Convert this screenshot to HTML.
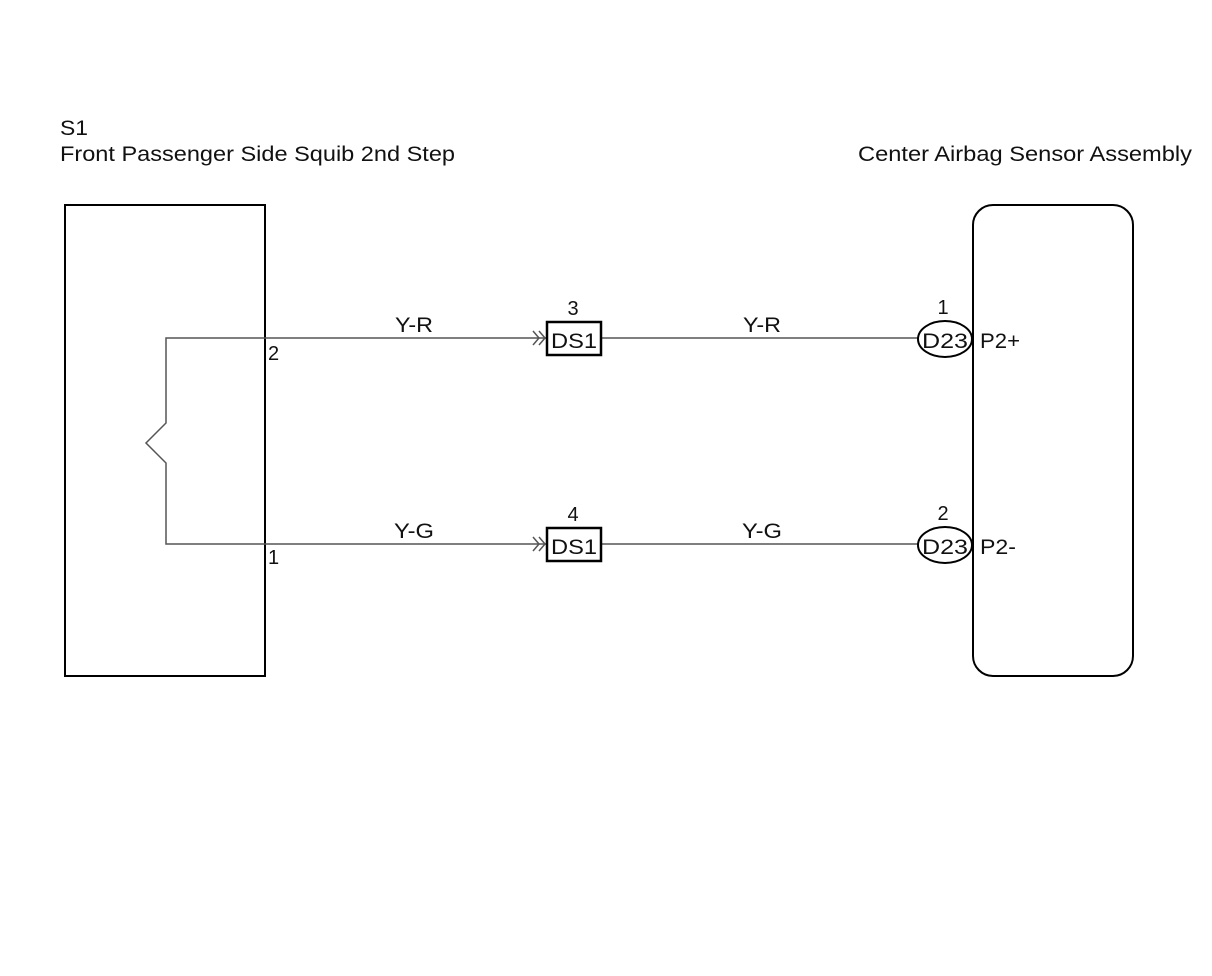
<!DOCTYPE html>
<html><head><meta charset="utf-8"><style>
html,body{margin:0;padding:0;background:#fff;}
svg{display:block;}
text{font-family:"Liberation Sans",Arial,sans-serif;fill:#111;}
</style></head><body>
<svg width="1212" height="976" viewBox="0 0 1212 976" xmlns="http://www.w3.org/2000/svg">
<rect width="1212" height="976" fill="#fff"/>
<text x="60" y="135" font-size="21" textLength="28" lengthAdjust="spacingAndGlyphs">S1</text>
<text x="60" y="161" font-size="21" textLength="395" lengthAdjust="spacingAndGlyphs">Front Passenger Side Squib 2nd Step</text>
<text x="858" y="161" font-size="21" textLength="334" lengthAdjust="spacingAndGlyphs">Center Airbag Sensor Assembly</text>
<rect x="65" y="205" width="200" height="471" fill="none" stroke="#000" stroke-width="2"/>
<rect x="973" y="205" width="160" height="471" rx="20" ry="20" fill="none" stroke="#000" stroke-width="2"/>
<g stroke="#555" stroke-width="1.5" fill="none">
<polyline points="265,338 166,338 166,423 146,443 166,463 166,544 265,544"/>
<line x1="265" y1="338" x2="547" y2="338"/>
<line x1="265" y1="544" x2="547" y2="544"/>
<line x1="601" y1="338" x2="918" y2="338"/>
<line x1="601" y1="544" x2="918" y2="544"/>
<polyline points="533,331 539,338 533,345"/>
<polyline points="539,331 545,338 539,345"/>
<polyline points="533,537 539,544 533,551"/>
<polyline points="539,537 545,544 539,551"/>
</g>
<rect x="547" y="322" width="54" height="33" fill="#fff" stroke="#000" stroke-width="2.5"/>
<rect x="547" y="528" width="54" height="33" fill="#fff" stroke="#000" stroke-width="2.5"/>
<text x="551" y="348" font-size="21" textLength="46" lengthAdjust="spacingAndGlyphs">DS1</text>
<text x="551" y="554" font-size="21" textLength="46" lengthAdjust="spacingAndGlyphs">DS1</text>
<text x="573" y="315" font-size="20" text-anchor="middle">3</text>
<text x="573" y="521" font-size="20" text-anchor="middle">4</text>
<ellipse cx="945" cy="339" rx="27" ry="18" fill="#fff" stroke="#000" stroke-width="2"/>
<ellipse cx="945" cy="545" rx="27" ry="18" fill="#fff" stroke="#000" stroke-width="2"/>
<line x1="973" y1="300" x2="973" y2="600" stroke="#000" stroke-width="2"/>
<text x="922" y="348" font-size="21" textLength="46" lengthAdjust="spacingAndGlyphs">D23</text>
<text x="922" y="554" font-size="21" textLength="46" lengthAdjust="spacingAndGlyphs">D23</text>
<text x="943" y="314" font-size="20" text-anchor="middle">1</text>
<text x="943" y="520" font-size="20" text-anchor="middle">2</text>
<text x="980" y="348" font-size="21" textLength="40" lengthAdjust="spacingAndGlyphs">P2+</text>
<text x="980" y="554" font-size="21" textLength="36" lengthAdjust="spacingAndGlyphs">P2-</text>
<text x="395" y="332" font-size="21" textLength="38" lengthAdjust="spacingAndGlyphs">Y-R</text>
<text x="394" y="538" font-size="21" textLength="40" lengthAdjust="spacingAndGlyphs">Y-G</text>
<text x="743" y="332" font-size="21" textLength="38" lengthAdjust="spacingAndGlyphs">Y-R</text>
<text x="742" y="538" font-size="21" textLength="40" lengthAdjust="spacingAndGlyphs">Y-G</text>
<text x="268" y="360" font-size="20">2</text>
<text x="268" y="564" font-size="20">1</text>
</svg>
</body></html>
